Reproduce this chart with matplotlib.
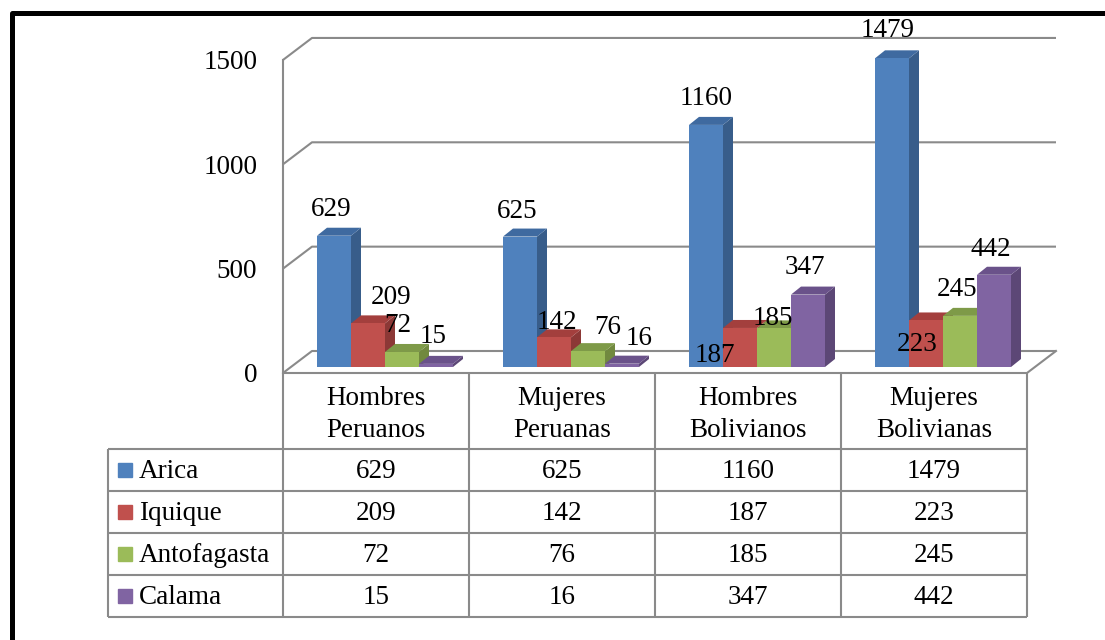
import numpy as np
import matplotlib
matplotlib.use('Agg')
import matplotlib.pyplot as plt
from matplotlib.patches import Polygon
from matplotlib.lines import Line2D

# data
categories = ['Hombres\nPeruanos', 'Mujeres\nPeruanas', 'Hombres\nBolivianos', 'Mujeres\nBolivianas']
series = ['Arica', 'Iquique', 'Antofagasta', 'Calama']
arica = [629, 625, 1160, 1479]
iquique = [209, 142, 187, 223]
antofagasta = [72, 76, 185, 245]
calama = [15, 16, 347, 442]
yticks = [0, 500, 1000, 1500]

values = [arica, iquique, antofagasta, calama]

front_cols = ['#4F81BD', '#C0504D', '#9BBB59', '#8064A2']
side_cols = ['#385D8A', '#8C3836', '#71893F', '#5C4776']
top_cols = ['#3F6AA0', '#A33F3D', '#7E9A48', '#6A528A']
grid_col = '#8A8A8A'

# label offsets in pixels (x, y) from bar top centre, Excel style placement
lab_off = [[(-3, 26), (-3, 25), (0, 26), (-4, 28)],
           [(23, 26), (3, 15), (-25, -28), (-9, -24)],
           [(-4, 26), (20, 24), (-1, 10), (-3, 26)],
           [(-3, 27), (17, 25), (-3, 27), (-3, 25)]]

plt.rcParams['font.family'] = ['Liberation Serif', 'DejaVu Serif']
FS = 19.5

W, H = 1105, 640
fig = plt.figure(figsize=(W / 100, H / 100), dpi=100)

# scale: pixels per category / per value unit
PX_CAT = 186.0
PX_VAL = 0.2087
x0_px, y0_px = 283, 373

ax = fig.add_axes([x0_px / W, (H - y0_px) / H, (1075 - x0_px) / W, (y0_px - 12) / H])
ax.set_xlim(0, (1075 - x0_px) / PX_CAT)
ax.set_ylim(0, (y0_px - 12) / PX_VAL)
for s in ax.spines.values():
    s.set_visible(False)
ax.set_xticks([])
ax.set_yticks(yticks)
ax.set_yticklabels([str(t) for t in yticks], fontsize=FS)
ax.tick_params(axis='y', length=0, pad=18.5)

ncat = len(categories)
DX, DY = 29 / PX_CAT, 22 / PX_VAL          # wall depth
bdx, bdy = 10 / PX_CAT, 8 / PX_VAL         # bar depth
bw = 34 / PX_CAT                           # bar width
boff = 34 / PX_CAT                         # first bar offset in category
base = 6 / PX_VAL                          # bar base above floor front

# walls / gridlines
for t in yticks:
    ax.plot([0, DX, ncat + DX], [t, t + DY, t + DY], color=grid_col, lw=1.5,
            solid_capstyle='butt', clip_on=False)
ax.plot([0, 0], [0, yticks[-1]], color=grid_col, lw=1.5, clip_on=False)
ax.plot([0, ncat, ncat + DX], [0, 0, DY], color=grid_col, lw=1.5, clip_on=False)

# 3d bars
for c in range(ncat):
    for s in range(len(series)):
        v = values[s][c]
        x = c + boff + s * bw
        y1 = base + v
        z = 3 + s
        side = [(x + bw, base), (x + bw + bdx, base + bdy),
                (x + bw + bdx, y1 + bdy), (x + bw, y1)]
        top = [(x, y1), (x + bdx, y1 + bdy), (x + bw + bdx, y1 + bdy), (x + bw, y1)]
        front = [(x, base), (x + bw, base), (x + bw, y1), (x, y1)]
        ax.add_patch(Polygon(side, closed=True, fc=side_cols[s], ec='none', zorder=z))
        ax.add_patch(Polygon(top, closed=True, fc=top_cols[s], ec='none', zorder=z))
        ax.add_patch(Polygon(front, closed=True, fc=front_cols[s], ec='none', zorder=z))
        ox, oy = lab_off[s][c]
        ax.annotate(str(v), (x + bw / 2, y1), xytext=(ox, oy), textcoords='offset pixels',
                    ha='center', va='center', fontsize=FS, zorder=10, annotation_clip=False)

# data table
HEAD = 76 / 42
left = -(x0_px - 108) / PX_CAT
tax = fig.add_axes([108 / W, (H - 617) / H, (x0_px + ncat * PX_CAT - 108) / W, (617 - y0_px) / H])
tax.set_xlim(left, ncat)
tax.set_ylim(HEAD + len(series), 0)
tax.axis('off')
tax.vlines(range(ncat + 1), 0, HEAD + len(series), color=grid_col, lw=1.5, clip_on=False)
tax.vlines(left, HEAD, HEAD + len(series), color=grid_col, lw=1.5, clip_on=False)
tax.hlines([HEAD + i for i in range(len(series) + 1)], left, ncat, color=grid_col, lw=1.5,
           clip_on=False)

for c, name in enumerate(categories):
    tax.text(c + 0.5, HEAD / 2 + 0.08, name, ha='center', va='center', fontsize=FS,
             linespacing=1.4)

for s, name in enumerate(series):
    yc = HEAD + s + 0.5
    tax.plot(left + 17 / PX_CAT, yc, marker='s', ms=10, color=front_cols[s], clip_on=False)
    tax.text(left + 31 / PX_CAT, yc + 0.04, name, ha='left', va='center', fontsize=FS)
    for c in range(ncat):
        tax.text(c + 0.5, yc + 0.04, str(values[s][c]), ha='center', va='center', fontsize=FS)

# outer frame (only top and left visible)
fig.add_artist(Line2D([11.5 / W, 11.5 / W, 1], [0, (H - 13) / H, (H - 13) / H],
                      transform=fig.transFigure, color='black', lw=3.6))

plt.savefig('out.png', dpi=100)
